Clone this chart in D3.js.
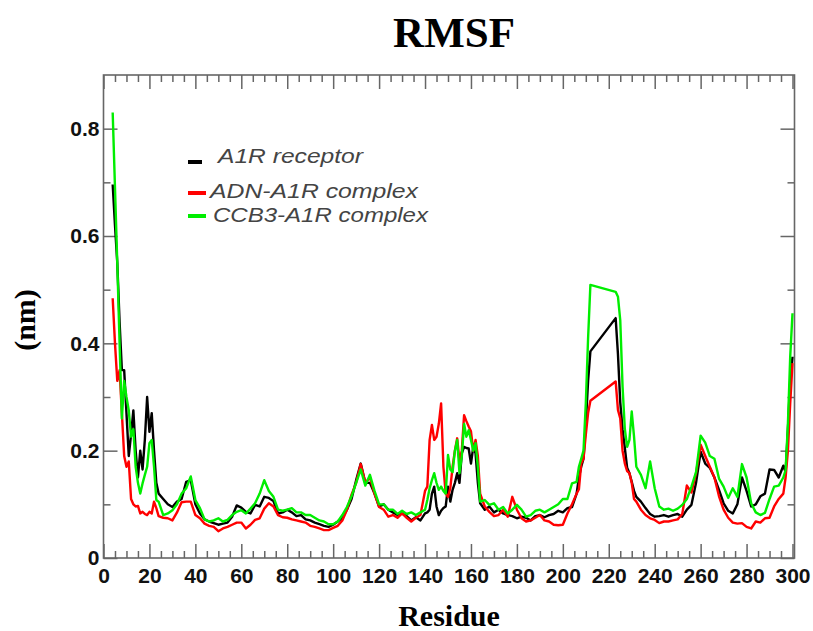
<!DOCTYPE html>
<html><head><meta charset="utf-8">
<script src="https://cdn.jsdelivr.net/npm/d3@7"></script>
<style>body{margin:0;background:#fff}</style>
</head><body><svg id="c" width="813" height="631"></svg>
<script>
// Residue numbers (gap 213-222 is missing in the trajectory)
const residues = [
  4,5,6,7,8,9,10,11,12,13,14,15,16,17,18,19,20,21,22,23,24,
  26,28,30,32,34,36,38,40,42,44,
  46,48,50,52,54,56,58,60,62,64,
  66,68,70,72,74,76,78,80,82,84,
  86,88,90,92,94,96,98,100,102,104,
  106,108,110,112,114,116,118,120,122,124,
  126,128,130,132,134,136,138,140,
  141,142,143,144,145,146,147,148,149,150,
  151,152,153,154,155,156,157,158,159,160,
  161,162,163,164,
  166,168,170,172,174,176,178,180,182,184,
  186,188,190,192,194,196,198,200,202,204,
  206,
  207,208,209,210,211,212,
  223,224,225,226,227,228,229,230,231,232,
  234,236,238,240,242,244,246,248,250,252,
  254,256,258,260,262,264,266,268,270,272,
  274,276,278,280,282,284,286,288,290,292,
  294,296,
  297,298,299,300
];
// RMSF (nm) — A1R receptor (black)
const a1r = [
  0.696,0.62,0.55,0.44,0.35,0.35,0.27,0.19,0.23,0.275,0.20,0.15,0.20,0.165,0.22,0.30,0.235,0.27,0.20,0.14,0.12,
  0.11,0.10,0.095,0.105,0.11,0.142,0.145,0.10,0.083,0.072,
  0.068,0.065,0.062,0.064,0.066,0.077,0.098,0.094,0.086,0.083,
  0.099,0.096,0.114,0.112,0.106,0.083,0.085,0.09,0.085,0.078,
  0.08,0.072,0.07,0.066,0.063,0.06,0.058,0.062,0.068,0.075,
  0.09,0.11,0.145,0.176,0.14,0.14,0.12,0.096,0.1,0.09,
  0.085,0.08,0.083,0.078,0.07,0.076,0.07,0.083,
  0.085,0.09,0.12,0.133,0.096,0.08,0.088,0.093,0.096,0.133,
  0.105,0.127,0.14,0.158,0.14,0.195,0.207,0.205,0.204,0.176,
  0.207,0.195,0.14,0.102,
  0.09,0.096,0.085,0.09,0.083,0.08,0.078,0.074,0.077,0.075,
  0.07,0.078,0.08,0.076,0.08,0.082,0.088,0.085,0.093,0.095,
  0.12,
  0.15,0.17,0.185,0.25,0.33,0.385,
  0.447,0.38,0.29,0.24,0.205,0.168,0.158,0.142,0.125,0.114,
  0.105,0.093,0.082,0.077,0.078,0.08,0.077,0.08,0.082,0.077,
  0.09,0.099,0.14,0.198,0.176,0.168,0.15,0.127,0.102,0.088,
  0.083,0.1,0.15,0.125,0.096,0.1,0.115,0.12,0.165,0.164,
  0.15,0.172,
  0.16,0.24,0.33,0.375
];
// RMSF (nm) — ADN-A1R complex (red)
const adnA1r = [
  0.484,0.40,0.33,0.35,0.27,0.19,0.17,0.18,0.11,0.10,0.096,0.097,0.083,0.086,0.082,0.08,0.086,0.083,0.105,0.093,0.078,
  0.075,0.074,0.07,0.085,0.104,0.105,0.105,0.08,0.074,0.064,
  0.06,0.058,0.05,0.055,0.058,0.062,0.066,0.066,0.055,0.062,
  0.071,0.074,0.092,0.102,0.096,0.08,0.076,0.075,0.072,0.07,
  0.068,0.066,0.06,0.058,0.055,0.052,0.052,0.056,0.06,0.07,
  0.09,0.118,0.14,0.175,0.14,0.15,0.12,0.095,0.09,0.077,
  0.08,0.075,0.083,0.075,0.068,0.075,0.08,0.125,
  0.133,0.22,0.248,0.22,0.226,0.25,0.288,0.17,0.12,0.114,
  0.13,0.17,0.2,0.223,0.18,0.2,0.266,0.255,0.245,0.236,
  0.2,0.22,0.19,0.12,
  0.096,0.086,0.078,0.08,0.09,0.077,0.114,0.09,0.074,0.068,
  0.07,0.075,0.08,0.07,0.068,0.062,0.061,0.062,0.083,0.1,
  0.12,
  0.128,0.176,0.185,0.23,0.27,0.293,
  0.329,0.276,0.26,0.2,0.176,0.162,0.158,0.14,0.11,0.105,
  0.09,0.08,0.074,0.071,0.065,0.068,0.068,0.07,0.072,0.082,
  0.135,0.122,0.158,0.211,0.19,0.17,0.15,0.115,0.09,0.075,
  0.066,0.064,0.065,0.058,0.055,0.068,0.066,0.074,0.075,0.096,
  0.11,0.12,
  0.15,0.2,0.288,0.363
];
// RMSF (nm) — CCB3-A1R complex (green)
const ccb3A1r = [
  0.83,0.69,0.55,0.40,0.26,0.33,0.30,0.275,0.226,0.24,0.17,0.14,0.12,0.139,0.155,0.17,0.214,0.22,0.17,0.108,0.105,
  0.08,0.083,0.089,0.1,0.12,0.13,0.152,0.108,0.093,0.072,
  0.068,0.07,0.074,0.068,0.071,0.08,0.086,0.089,0.083,0.092,
  0.102,0.12,0.145,0.125,0.114,0.09,0.088,0.09,0.093,0.085,
  0.085,0.08,0.08,0.075,0.07,0.068,0.063,0.063,0.068,0.08,
  0.095,0.115,0.14,0.165,0.135,0.155,0.125,0.1,0.1,0.09,
  0.09,0.082,0.088,0.082,0.085,0.08,0.085,0.09,
  0.108,0.13,0.145,0.158,0.14,0.127,0.133,0.125,0.12,0.192,
  0.165,0.16,0.2,0.22,0.158,0.189,0.25,0.226,0.238,0.22,
  0.2,0.214,0.17,0.105,
  0.108,0.099,0.102,0.09,0.095,0.083,0.09,0.099,0.09,0.077,
  0.08,0.088,0.09,0.085,0.09,0.095,0.1,0.11,0.11,0.139,
  0.142,
  0.17,0.185,0.2,0.288,0.41,0.509,
  0.496,0.487,0.443,0.32,0.24,0.207,0.22,0.273,0.226,0.17,
  0.155,0.13,0.18,0.13,0.096,0.09,0.092,0.088,0.092,0.099,
  0.11,0.133,0.16,0.228,0.215,0.19,0.185,0.148,0.133,0.112,
  0.13,0.114,0.175,0.15,0.102,0.085,0.08,0.084,0.11,0.133,
  0.135,0.15,
  0.164,0.25,0.375,0.456
];
const seriesNames = ["A1R receptor", "ADN-A1R complex", "CCB3-A1R complex"];
const seriesValues = [a1r, adnA1r, ccb3A1r];
const seriesColors = ["#000000", "#ff0000", "#00ee00"];
const xTickValues = [0,20,40,60,80,100,120,140,160,180,200,220,240,260,280,300];
const yTickValues = [0,0.2,0.4,0.6,0.8];
const titleText = "RMSF", xTitle = "Residue", yTitle = "(nm)";

const svg = d3.select("#c");
const L = 103.5, R = 794.5, T = 75, B = 558;
const x = d3.scaleLinear().domain([0, 300]).range([103.5, 792.5]);
const y = d3.scaleLinear().domain([0, 0.9]).range([B, T]);
const axisColor = "#666";
const tickFont = "'Liberation Sans', Arial, sans-serif";

const xMinor = d3.range(0, 301, 5).filter(d => d % 20 !== 0);
const yMinor = [0.1, 0.3, 0.5, 0.7];

function styleAxis(g) {
  g.select(".domain").remove();
  g.selectAll(".tick line").attr("stroke", axisColor).attr("stroke-width", 1.5);
  g.selectAll("text").attr("font-family", tickFont).attr("font-weight", "bold")
    .attr("font-size", 21).attr("fill", "#111");
}
// bottom
svg.append("g").attr("transform", `translate(0,${B})`)
  .call(d3.axisBottom(x).tickValues(xTickValues).tickSize(-14).tickPadding(10).tickFormat(d3.format("d"))).call(styleAxis);
svg.append("g").attr("transform", `translate(0,${B})`)
  .call(d3.axisBottom(x).tickValues(xMinor).tickSize(-7).tickFormat("")).call(styleAxis);
// top
svg.append("g").attr("transform", `translate(0,${T})`)
  .call(d3.axisTop(x).tickValues(xTickValues).tickSize(-14).tickFormat("")).call(styleAxis);
svg.append("g").attr("transform", `translate(0,${T})`)
  .call(d3.axisTop(x).tickValues(xMinor).tickSize(-7).tickFormat("")).call(styleAxis);
// left
svg.append("g").attr("transform", `translate(${L},0)`)
  .call(d3.axisLeft(y).tickValues(yTickValues).tickSize(-14).tickPadding(4).tickFormat(d => d === 0 ? "0" : d3.format(".1f")(d))).call(styleAxis);
svg.append("g").attr("transform", `translate(${L},0)`)
  .call(d3.axisLeft(y).tickValues(yMinor).tickSize(-7).tickFormat("")).call(styleAxis);
// right
svg.append("g").attr("transform", `translate(${R},0)`)
  .call(d3.axisRight(y).tickValues(yTickValues).tickSize(-14).tickFormat("")).call(styleAxis);
svg.append("g").attr("transform", `translate(${R},0)`)
  .call(d3.axisRight(y).tickValues(yMinor).tickSize(-7).tickFormat("")).call(styleAxis);

// frame
svg.append("rect").attr("x", L).attr("y", T).attr("width", R - L).attr("height", B - T)
  .attr("fill", "none").attr("stroke", axisColor).attr("stroke-width", 1.6);

// lines
const line = d3.line().x(d => x(d[0])).y(d => y(d[1]));
seriesValues.forEach((vals, i) => {
  const pts = residues.map((r, j) => [r, vals[j]]);
  svg.append("path").datum(pts).attr("d", line).attr("fill", "none")
    .attr("stroke", seriesColors[i]).attr("stroke-width", 2.4).attr("stroke-linejoin", "round");
});

// legend
const legendRows = [
  {y: 162, x1: 188, x2: 202, tx: 218, base: 163, len: 145},
  {y: 193, x1: 188, x2: 206, tx: 210, base: 198, len: 208},
  {y: 216, x1: 188, x2: 206, tx: 213, base: 222, len: 215}
];
legendRows.forEach((p, i) => {
  svg.append("line").attr("x1", p.x1).attr("x2", p.x2).attr("y1", p.y).attr("y2", p.y)
    .attr("stroke", seriesColors[i]).attr("stroke-width", 4);
  svg.append("text").attr("x", p.tx).attr("y", p.base).text(seriesNames[i])
    .attr("font-family", tickFont).attr("font-style", "italic").attr("font-size", 21)
    .attr("fill", "#444").attr("textLength", p.len).attr("lengthAdjust", "spacingAndGlyphs");
});

// titles
const serif = "'Liberation Serif', 'Times New Roman', serif";
svg.append("text").attr("x", 454).attr("y", 47).attr("text-anchor", "middle").text(titleText)
  .attr("font-family", serif).attr("font-weight", "bold").attr("font-size", 43);
svg.append("text").attr("x", 449).attr("y", 626).attr("text-anchor", "middle").text(xTitle)
  .attr("font-family", serif).attr("font-weight", "bold").attr("font-size", 30);
svg.append("text").attr("transform", "translate(35,320) rotate(-90)").attr("text-anchor", "middle").text(yTitle)
  .attr("font-family", serif).attr("font-weight", "bold").attr("font-size", 30);
</script></body></html>
